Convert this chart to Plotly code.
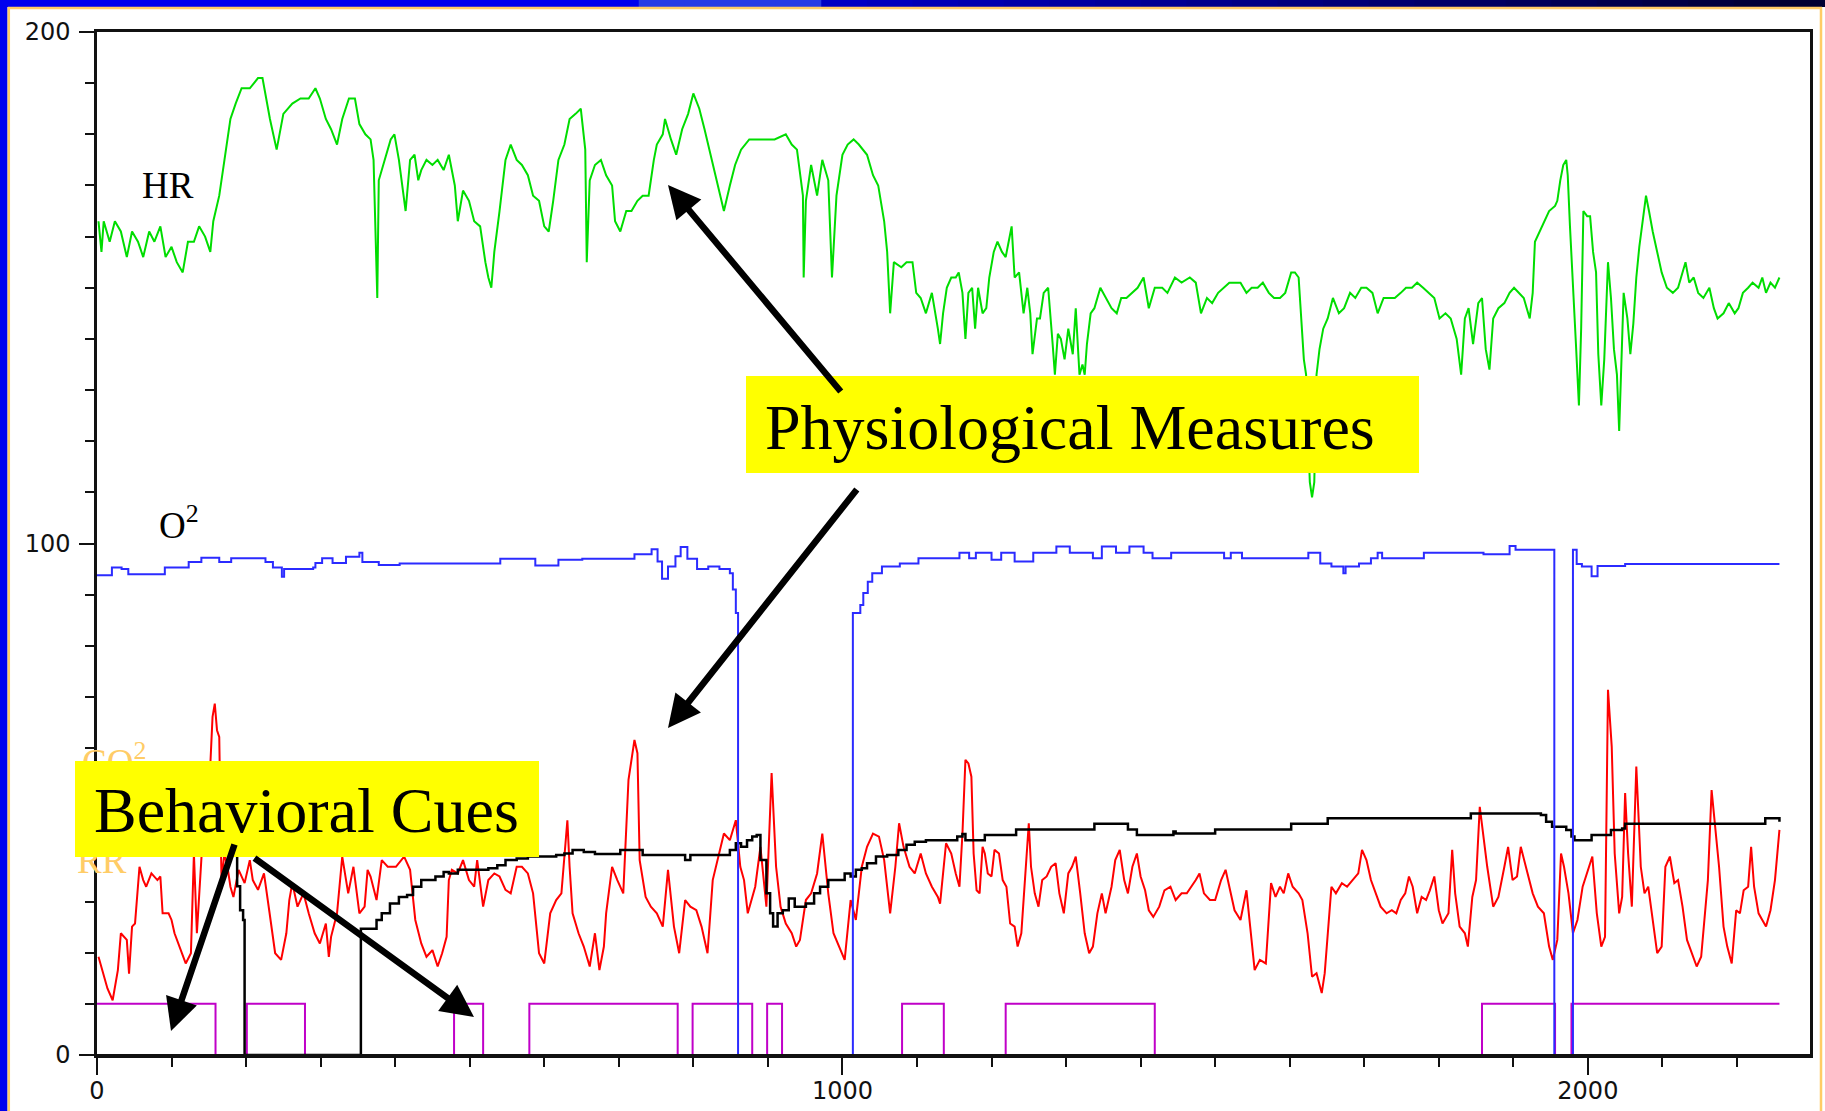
import plotly.graph_objects as go

# ---------------- data ----------------
hr_x = [2, 6, 9, 17, 24, 32, 40, 47, 55, 62,
        70, 77, 85, 92, 100, 107, 115, 122, 130, 137,
        145, 152, 156, 164, 171, 179, 186, 194, 205, 216,
        222, 228, 232, 241, 250, 262, 273, 284, 293, 299,
        307, 314, 322, 329, 338, 346, 352, 360, 367, 371,
        375, 376, 378, 386, 394, 399, 405, 414, 420, 426,
        431, 435, 442, 450, 457, 465, 472, 480, 484, 491,
        499, 506, 514, 521, 525, 529, 533, 540, 548, 555,
        563, 570, 578, 585, 593, 600, 606, 612, 619, 627,
        634, 642, 649, 655, 657, 661, 668, 676, 683, 691,
        695, 702, 710, 717, 725, 732, 740, 747, 751, 759,
        762, 770, 777, 785, 793, 800, 808, 815, 823, 830,
        838, 841, 849, 856, 864, 875, 887, 898, 909, 924,
        932, 939, 947, 948, 951, 958, 966, 973, 981, 986,
        992, 1000, 1007, 1015, 1022, 1033, 1041, 1048, 1056, 1060,
        1064, 1069, 1079, 1086, 1094, 1099, 1105, 1112, 1120, 1128,
        1131, 1135, 1140, 1146, 1152, 1156, 1161, 1165, 1169, 1174,
        1178, 1182, 1188, 1193, 1197, 1203, 1208, 1214, 1219, 1223,
        1227, 1231, 1237, 1243, 1248, 1252, 1255, 1261, 1265, 1270,
        1276, 1282, 1285, 1289, 1293, 1298, 1303, 1309, 1313, 1318,
        1322, 1325, 1328, 1333, 1338, 1346, 1353, 1361, 1368, 1374,
        1381, 1389, 1396, 1404, 1411, 1419, 1429, 1436, 1446, 1455,
        1466, 1474, 1481, 1489, 1496, 1504, 1511, 1519, 1526, 1534,
        1542, 1549, 1557, 1564, 1572, 1579, 1587, 1594, 1602, 1607,
        1612, 1615, 1619, 1622, 1624, 1627, 1630, 1633, 1636, 1640,
        1645, 1651, 1658, 1666, 1673, 1681, 1688, 1696, 1703, 1711,
        1718, 1726, 1734, 1741, 1749, 1756, 1764, 1771, 1779, 1786,
        1794, 1801, 1809, 1816, 1824, 1830, 1835, 1840, 1846, 1853,
        1858, 1863, 1868, 1873, 1880, 1888, 1895, 1901, 1907, 1914,
        1922, 1926, 1929, 1935, 1941, 1948, 1956, 1959, 1963, 1967,
        1971, 1973, 1976, 1981, 1984, 1988, 1991, 1994, 1999, 2003,
        2007, 2011, 2014, 2018, 2022, 2027, 2031, 2035, 2039, 2042,
        2045, 2048, 2053, 2057, 2061, 2065, 2069, 2074, 2078, 2082,
        2087, 2093, 2099, 2106, 2114, 2121, 2127, 2131, 2136, 2142,
        2148, 2155, 2163, 2169, 2174, 2182, 2189, 2197, 2202, 2208,
        2215, 2221, 2229, 2234, 2239, 2245, 2251, 2257]
hr_y = [163, 157, 163, 159, 163, 161, 156, 161, 159, 156,
        161, 159, 162, 156, 158, 155, 153, 159, 159, 162,
        160, 157, 163, 168, 175, 183, 186, 189, 189, 191,
        191, 186, 183, 177, 184, 186, 187, 187, 189, 187,
        183, 181, 178, 183, 187, 187, 182, 180, 179, 175,
        149, 148, 171, 175, 179, 180, 175, 165, 175, 176,
        171, 173, 175, 174, 175, 173, 176, 170, 163, 169,
        167, 163, 162, 155, 152, 150, 157, 165, 175, 178,
        175, 174, 172, 168, 167, 162, 161, 167, 175, 178,
        183, 184, 185, 177, 155, 171, 174, 175, 172, 170,
        163, 161, 165, 165, 167, 168, 168, 175, 178, 180,
        183, 179, 176, 181, 184, 188, 185, 181, 176, 172,
        167, 165, 170, 174, 177, 179, 179, 179, 179, 180,
        178, 177, 168, 152, 167, 174, 168, 175, 171, 152,
        168, 176, 178, 179, 178, 176, 172, 170, 163, 157,
        145, 155, 154, 155, 155, 149, 148, 145, 149, 142,
        139, 145, 150, 152, 152, 153, 149, 140, 149, 150,
        142, 150, 145, 146, 152, 157, 159, 157, 156, 159,
        162, 152, 153, 145, 150, 145, 137, 144, 144, 149,
        150, 139, 133, 141, 140, 136, 142, 137, 146, 133,
        135, 133, 139, 145, 146, 150, 148, 146, 145, 148,
        148, 149, 150, 152, 146, 150, 150, 149, 152, 151,
        152, 151, 145, 148, 147, 149, 150, 151, 151, 151,
        149, 150, 150, 151, 149, 148, 148, 149, 153, 153,
        152, 144, 136, 133, 123, 112, 109, 112, 133, 138,
        142, 144, 148, 145, 146, 149, 148, 150, 150, 149,
        145, 148, 148, 148, 149, 150, 150, 151, 150, 149,
        148, 144, 145, 144, 140, 133, 144, 146, 139, 147,
        148, 138, 134, 144, 146, 147, 149, 150, 149, 148,
        144, 149, 159, 161, 163, 165, 166, 167, 171, 174,
        175, 172, 162, 149, 139, 127, 142, 165, 164, 164,
        157, 153, 137, 127, 136, 155, 148, 138, 133, 122,
        138, 149, 144, 137, 143, 152, 158, 164, 168, 165,
        161, 157, 153, 150, 149, 150, 153, 155, 151, 152,
        149, 148, 150, 146, 144, 145, 147, 145, 146, 149,
        150, 151, 150, 152, 149, 151, 150, 152]

o2_x = [0, 20, 33, 42, 91, 123, 140, 164, 180, 226,
        236, 248, 251, 290, 293, 302, 316, 334, 352, 356,
        378, 406, 463, 541, 588, 619, 651, 721, 744, 752,
        758, 766, 776, 783, 792, 805, 820, 835, 849, 853,
        857, 860, 1014, 1024, 1028, 1034, 1040, 1053, 1077, 1102,
        1157, 1170, 1179, 1200, 1213, 1231, 1256, 1287, 1305, 1336,
        1348, 1367, 1385, 1404, 1416, 1441, 1512, 1521, 1536, 1625,
        1641, 1656, 1672, 1675, 1693, 1709, 1718, 1724, 1780, 1860,
        1895, 1903, 1955, 1980, 1985, 1992, 2005, 2013, 2050, 2257]
o2_y = [93.8, 95.3, 95.0, 94.0, 95.3, 96.4, 97.2, 96.4, 97.1, 96.4,
        95.3, 93.5, 95.0, 95.3, 96.2, 97.1, 96.2, 97.4, 98.2, 96.4,
        95.8, 96.1, 96.1, 97.0, 95.7, 96.8, 97.0, 97.9, 98.9, 96.5,
        93.1, 95.5, 97.5, 99.3, 97.0, 95.0, 95.5, 95.0, 94.2, 91.0,
        86.4, 0, 86.4, 88.0, 90.3, 92.5, 94.2, 95.5, 96.1, 97.1,
        98.2, 97.1, 98.2, 96.8, 98.2, 96.5, 98.2, 99.4, 98.2, 97.1,
        99.4, 98.2, 99.4, 98.2, 97.1, 98.2, 97.1, 98.2, 97.1, 98.2,
        96.1, 95.5, 94.2, 95.5, 96.1, 97.1, 98.2, 97.1, 98.2, 97.9,
        99.5, 98.8, 0, 98.8, 96.0, 95.5, 93.6, 95.6, 96.0, 96.0]

rr_x = [2, 8, 14, 21, 28, 32, 40, 43, 47, 51,
        57, 62, 66, 73, 81, 85, 88, 96, 100, 104,
        111, 119, 126, 130, 134, 141, 149, 155, 158, 161,
        164, 167, 171, 175, 179, 183, 190, 198, 205, 209,
        216, 224, 231, 239, 247, 254, 258, 262, 269, 277,
        284, 292, 299, 307, 311, 314, 322, 329, 337, 344,
        352, 359, 363, 367, 375, 382, 390, 401, 412, 420,
        427, 435, 442, 450, 457, 463, 469, 472, 476, 484,
        491, 499, 506, 510, 518, 525, 533, 540, 548, 555,
        563, 570, 578, 585, 593, 600, 608, 616, 623, 631,
        634, 638, 646, 653, 661, 668, 674, 680, 683, 691,
        698, 706, 713, 721, 725, 728, 736, 743, 751, 759,
        766, 774, 781, 789, 796, 804, 811, 819, 826, 834,
        841, 849, 857, 863, 868, 873, 883, 890, 898, 905,
        911, 917, 924, 932, 938, 943, 951, 958, 966, 973,
        981, 988, 996, 1003, 1011, 1018, 1026, 1033, 1041, 1049,
        1056, 1064, 1071, 1076, 1082, 1090, 1097, 1105, 1112, 1120,
        1128,
        1131, 1139, 1146, 1152, 1157, 1161, 1165, 1169, 1173, 1176,
        1180, 1184, 1188, 1191, 1195, 1200, 1204, 1210, 1215, 1220,
        1225, 1231, 1235, 1240, 1246, 1250, 1253, 1258, 1263, 1268,
        1274, 1280, 1286, 1291, 1297, 1303, 1308, 1313, 1319, 1325,
        1331, 1336, 1342, 1348, 1353, 1361, 1366, 1372, 1378, 1383,
        1389, 1395, 1400, 1406, 1411, 1417, 1425, 1432, 1440, 1447,
        1455, 1462, 1474, 1479, 1485, 1493, 1500, 1508, 1514, 1519,
        1526, 1534, 1542, 1547, 1553, 1560, 1568, 1575, 1581, 1587,
        1592, 1598, 1604, 1612, 1617, 1624, 1630, 1636, 1643, 1647,
        1651, 1656, 1662, 1670, 1677, 1685, 1692, 1697, 1703, 1709,
        1715, 1722, 1730, 1737, 1743, 1749, 1755, 1760, 1765, 1771,
        1777, 1783, 1788, 1794, 1800, 1805, 1813, 1818, 1822, 1828,
        1835, 1839, 1845, 1850, 1855, 1860, 1865, 1873, 1880, 1888,
        1893, 1899, 1905, 1910, 1918, 1926, 1933, 1941, 1948, 1953,
        1959, 1964, 1968, 1974, 1980, 1986, 1993, 2001, 2006, 2012,
        2018, 2023, 2027, 2032, 2036, 2042, 2046, 2050, 2054, 2059,
        2065, 2071, 2076, 2081, 2087, 2093, 2099, 2104, 2110, 2116,
        2121, 2127, 2133, 2140, 2146, 2152, 2157, 2161, 2166, 2170,
        2176, 2182, 2187, 2193, 2199, 2204, 2209, 2215, 2219, 2223,
        2229, 2234, 2239, 2245, 2251, 2257]
rr_y = [19.2, 16, 13, 10.7, 16.6, 23.8, 22.5, 15.9, 25.1, 25.7,
        36.8, 34.2, 32.9, 35.5, 34.2, 34.9, 27.7, 27.7, 26.4, 23.8,
        21.2, 17.9, 19.9, 39.4, 23.8, 40.7, 47.2, 66.1, 68.7, 63.5,
        62.2, 34.2, 39.4, 36.8, 32.9, 30.9, 36.2, 33.6, 38.1, 34.2,
        32.3, 35.5, 28.3, 19.9, 18.6, 23.8, 30.3, 33.6, 29.0, 31.6,
        27.7, 23.8, 21.8, 25.7, 19.2, 23.1, 27.7, 38.8, 31.6, 36.8,
        27.7, 29.0, 36.2, 34.9, 30.3, 38.1, 36.8, 36.8, 38.8, 36.2,
        26.4, 21.8, 19.2, 20.5, 17.3, 19.9, 23.1, 34.2, 36.2, 35.5,
        38.1, 34.2, 32.9, 38.1, 29.0, 34.2, 35.5, 34.9, 32.3, 31.6,
        36.8, 36.8, 35.5, 31.6, 19.9, 17.9, 27.7, 30.3, 31.6, 45.9,
        36.8, 27.7, 23.8, 21.2, 17.3, 23.8, 16.6, 21.2, 27.7, 36.8,
        34.2, 31.6, 53.8, 61.6, 59.0, 38.1, 30.9, 29.0, 27.7, 25.1,
        36.2, 25.1, 19.9, 30.3, 29.0, 28.3, 25.1, 19.9, 34.2, 39.4,
        43.3, 42.0, 45.9, 36.8, 34.2, 27.7, 32.9, 40.7, 29.0, 55.1,
        36.8, 29.0, 25.7, 23.8, 21.2, 22.5, 30.3, 31.6, 35.5, 43.3,
        31.6, 23.8, 21.2, 18.6, 30.3, 26.4, 36.8, 40.7, 43.3, 42.7,
        38.1, 27.7, 36.8, 45.3, 40.7, 36.8, 35.5, 39.4, 35.5, 32.9,
        30.9,
        29.6, 41.4, 39.4, 35.5, 32.9, 43.3, 57.7, 57.0, 54.4, 39.4,
        32.2, 31.6, 40.7, 39.4, 35.5, 34.9, 40.1, 39.4, 34.2, 32.9,
        25.7, 25.1, 21.2, 23.8, 36.8, 45.3, 36.8, 31.6, 29.0, 34.2,
        34.9, 36.8, 37.5, 31.6, 27.7, 35.5, 36.8, 38.8, 31.6, 23.8,
        19.9, 21.2, 27.7, 31.6, 27.7, 32.9, 38.1, 40.1, 34.2, 31.6,
        36.8, 39.4, 34.9, 32.2, 28.3, 27.0, 29.0, 32.2, 32.9, 30.3,
        31.6, 31.6, 34.2, 35.5, 31.6, 30.3, 30.3, 34.2, 36.2, 32.9,
        28.3, 26.4, 32.2, 25.1, 16.6, 18.6, 17.9, 33.6, 30.9, 32.9,
        31.6, 35.5, 32.9, 31.6, 30.3, 23.8, 15.3, 16.0, 12.1, 16.0,
        23.8, 32.9, 31.6, 33.6, 32.9, 34.2, 35.5, 40.1, 38.1, 34.2,
        31.6, 29.0, 27.7, 28.3, 27.7, 30.3, 31.6, 34.9, 32.9, 27.7,
        30.9, 30.3, 32.2, 34.9, 28.3, 25.7, 27.7, 40.1, 31.6, 25.1,
        23.8, 21.2, 30.9, 34.2, 48.5, 42.0, 36.8, 29.0, 30.9, 36.8,
        40.7, 34.2, 34.9, 40.7, 36.2, 31.6, 29.0, 27.7, 21.2, 18.6,
        22.5, 39.4, 36.8, 31.6, 23.8, 26.4, 32.9, 36.8, 38.8, 27.7,
        21.2, 23.1, 71.4, 60.3, 39.4, 27.7, 30.9, 51.2, 39.4, 29.0,
        56.4, 36.8, 31.6, 32.9, 26.4, 19.9, 21.2, 36.8, 38.8, 33.6,
        34.2, 29.0, 22.5, 19.9, 17.3, 19.2, 28.3, 34.2, 51.8, 45.9,
        36.8, 25.1, 21.2, 17.9, 28.3, 27.7, 32.2, 32.9, 40.7, 32.9,
        27.7, 26.4, 25.1, 28.3, 34.2, 44.0]

co2_x = [0, 150, 183, 188, 192, 196, 198, 354, 375, 382,
         393, 405, 416, 424, 435, 454, 465, 472, 484, 525,
         537, 548, 563, 578, 616, 627, 638, 653, 668, 702,
         732, 789, 796, 849, 857, 864, 872, 879, 885, 890,
         898, 903, 907, 913, 920, 928, 936, 951, 962, 970,
         981, 1003, 1011, 1018, 1026, 1033, 1045, 1060, 1075, 1086,
         1097, 1112, 1154, 1161, 1165, 1191, 1233, 1338, 1383, 1395,
         1444, 1447, 1485, 1500, 1602, 1651, 1843, 1937, 1944, 1952,
         1971, 1978, 1982, 2005, 2031, 2046, 2050, 2238, 2257]
co2_y = [46, 45, 40, 33, 28.3, 26.4, 0, 24.7, 26.4, 27.7,
         29.6, 30.9, 31.3, 32.9, 34.2, 34.9, 35.8, 35.5, 36.2, 36.5,
         37.1, 38.1, 38.4, 38.8, 39.1, 39.4, 40.1, 39.7, 39.3, 40.1,
         39.1, 38.1, 39.1, 40.1, 41.4, 40.7, 42.0, 42.7, 43.0, 38.1,
         31.6, 27.7, 25.1, 27.7, 28.3, 30.6, 29.0, 29.6, 31.6, 32.9,
         34.2, 35.5, 34.9, 36.2, 36.5, 37.5, 38.8, 39.1, 40.1, 41.1,
         41.7, 42.0, 42.7, 43.2, 42.0, 43.0, 44.1, 45.2, 44.1, 43.0,
         43.7, 43.3, 43.3, 44.1, 45.2, 46.3, 47.2, 46.9, 45.6, 44.6,
         44.0, 42.7, 42.0, 43.0, 44.0, 44.3, 45.2, 46.3, 45.6]

cue_x = [0, 159, 201, 279, 479, 518, 580, 779, 799, 879,
         899, 919, 1080, 1136, 1219, 1419, 1858, 1956, 1978, 2257]
cue_y = [10, 0, 10, 0, 10, 0, 10, 0, 10, 0,
         10, 0, 10, 0, 10, 0, 10, 0, 10, 10]

x_ticks = [0, 1000, 2000]
y_ticks = [0, 100, 200]
x_max = 2298

# ---------------- layout geometry (pixels) ----------------
W, H = 1825, 1111
L, R, T, B = 97, 1810, 32, 1055


def px(x):
    return (x - L) / (R - L)


def py(y):
    return (B - y) / (B - T)


fig = go.Figure()
fig.add_trace(go.Scatter(x=cue_x, y=cue_y, mode="lines",
                         line=dict(color="#c000c8", width=2, shape="hv")))
fig.add_trace(go.Scatter(x=rr_x, y=rr_y, mode="lines",
                         line=dict(color="#ff0000", width=2)))
fig.add_trace(go.Scatter(x=co2_x, y=co2_y, mode="lines",
                         line=dict(color="#000000", width=2.5, shape="hv")))
fig.add_trace(go.Scatter(x=o2_x, y=o2_y, mode="lines",
                         line=dict(color="#2b2bff", width=2, shape="hv")))
fig.add_trace(go.Scatter(x=hr_x, y=hr_y, mode="lines",
                         line=dict(color="#00dd00", width=2)))

tickfont = dict(family="DejaVu Sans", size=24, color="#111111")
axis_common = dict(showline=True, linecolor="#111111", linewidth=2.5, mirror=True,
                   showgrid=False, zeroline=False, ticks="outside", automargin=False,
                   layer="above traces",
                   tickcolor="#111111", tickwidth=2, tickfont=tickfont)

fig.update_xaxes(range=[0, x_max], tickvals=x_ticks, ticklen=17,
                 minor=dict(dtick=100, tick0=0, ticklen=9, tickwidth=2,
                            tickcolor="#111111", ticks="outside"),
                 ticklabelstandoff=-5, **axis_common)
fig.update_yaxes(range=[0, 200], tickvals=y_ticks, ticklen=15,
                 minor=dict(dtick=10, tick0=0, ticklen=9, tickwidth=2,
                            tickcolor="#111111", ticks="outside"),
                 ticklabelstandoff=4, **axis_common)

serif = "Liberation Serif"
ann = []
# series labels
ann.append(dict(x=px(168), y=py(186), text="HR", font=dict(family=serif, size=37, color="black")))
ann.append(dict(x=px(179), y=py(522), text="O<sup>2</sup>", font=dict(family=serif, size=37, color="black")))
ann.append(dict(x=px(114), y=py(759), text="CO<sup>2</sup>", font=dict(family=serif, size=37, color="#FFCC66")))
ann.append(dict(x=px(102), y=py(860), text="RR", font=dict(family=serif, size=37, color="#FFCC66")))
# yellow boxes
ann.append(dict(x=px(1082.5), y=py(424.5), text=".", width=673, height=97, bgcolor="#FFFF00",
                borderwidth=0, borderpad=0, font=dict(size=10, color="#FFFF00")))
ann.append(dict(x=px(307), y=py(809), text=".", width=464, height=96, bgcolor="#FFFF00",
                borderwidth=0, borderpad=0, font=dict(size=10, color="#FFFF00")))
# box texts
ann.append(dict(x=px(1070), y=py(427), text="Physiological Measures",
                font=dict(family=serif, size=64, color="black")))
ann.append(dict(x=px(306), y=py(810), text="Behavioral Cues",
                font=dict(family=serif, size=64, color="black")))
for a in ann:
    a.update(xref="paper", yref="paper", xanchor="center", yanchor="middle", showarrow=False)


def dx(p):
    return (p - L) / ((R - L) / x_max)


def dy(p):
    return (B - p) / ((B - T) / 200)


arrows = [((668, 185), (842, 393)), ((668, 728), (858, 488)),
          ((171, 1031), (235, 843)), ((474, 1017), (253, 857))]
for (tx, ty), (sx, sy) in arrows:
    ann.append(dict(x=dx(tx), y=dy(ty), ax=dx(sx), ay=dy(sy), xref="x", yref="y",
                    axref="x", ayref="y", text="", showarrow=True, arrowhead=2,
                    arrowsize=1.0, arrowwidth=6.5, arrowcolor="black", standoff=0))

shapes = []
# baseline cover so the zero-level segments hide under the axis, as in the original
shapes.append(dict(type="line", xref="paper", yref="paper", x0=0, x1=1, y0=0, y1=0,
                   line=dict(color="#111111", width=2.2), layer="above"))

# frame decoration: blue window border with gold inner line
deco = []
deco.append(dict(type="rect", x0=px(0), x1=px(7.5), y0=py(0), y1=py(H),
                 fillcolor="#0000EE", line=dict(width=0)))
nseg = 40
for i in range(nseg):
    x0 = W * i / nseg
    x1 = W * (i + 1) / nseg + 1
    f = i / (nseg - 1)
    if f < 0.35:
        c = (0, 0, 238)
    elif f < 0.45:
        c = (40, 60, 230)
    else:
        g = (f - 0.45) / 0.55
        c = (0, 0, int(200 - 150 * g))
    deco.append(dict(type="rect", x0=px(x0), x1=px(x1), y0=py(0), y1=py(7),
                     fillcolor="rgb(%d,%d,%d)" % c, line=dict(width=0)))
gold = "#FFCC66"
deco.append(dict(type="line", x0=px(8.8), x1=px(8.8), y0=py(7), y1=py(H), line=dict(color=gold, width=2.5)))
deco.append(dict(type="line", x0=px(8), x1=px(1822), y0=py(8), y1=py(8), line=dict(color=gold, width=2.5)))
deco.append(dict(type="line", x0=px(1821), x1=px(1821), y0=py(7), y1=py(H), line=dict(color=gold, width=2.5)))
for s in deco:
    s.update(xref="paper", yref="paper", layer="above")
shapes.extend(deco)

fig.update_layout(width=W, height=H, margin=dict(l=L, r=W - R, t=T, b=H - B, autoexpand=False),
                  paper_bgcolor="white", plot_bgcolor="white", showlegend=False,
                  annotations=ann, shapes=shapes)

fig.write_html("out.html")
